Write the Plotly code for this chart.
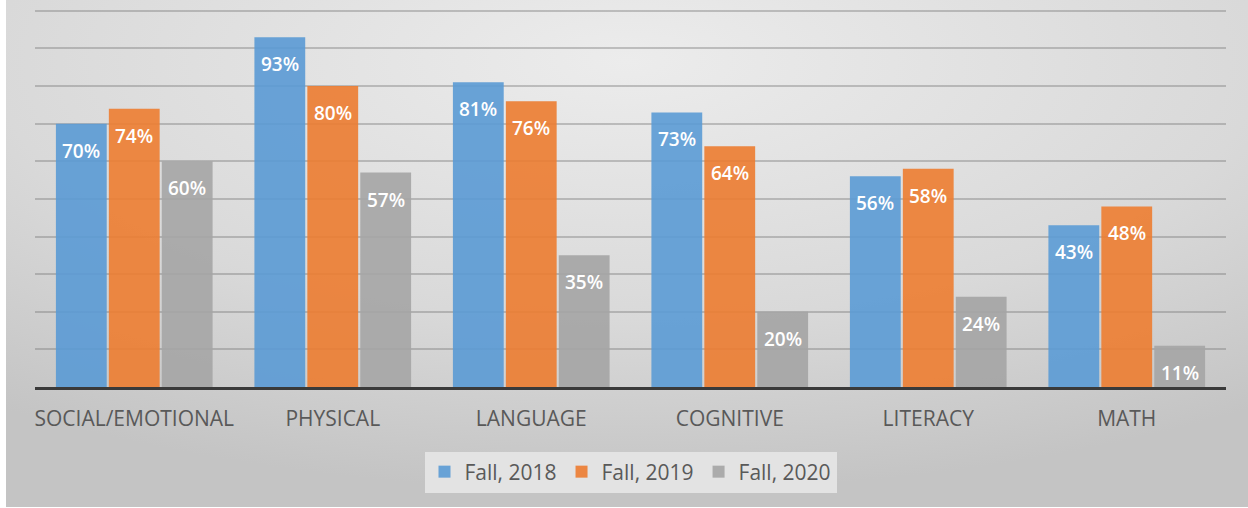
import base64
import plotly.graph_objects as go

categories = ["SOCIAL/EMOTIONAL", "PHYSICAL", "LANGUAGE", "COGNITIVE", "LITERACY", "MATH"]
series_names = ["Fall, 2018", "Fall, 2019", "Fall, 2020"]
fall_2018 = [70, 93, 81, 73, 56, 43]
fall_2019 = [74, 80, 76, 64, 58, 48]
fall_2020 = [60, 57, 35, 20, 24, 11]
series_values = [fall_2018, fall_2019, fall_2020]
colors = ["#5B9BD5", "#ED7D31", "#A5A5A5"]

W, H = 1248, 508
L, R, T, B = 35, 22, 9, 121
pw, ph = W - L - R, H - T - B

fig = go.Figure()
for name, vals, col in zip(series_names, series_values, colors):
    fig.add_trace(go.Bar(
        x=categories, y=vals, name=name,
        marker=dict(color=col, line=dict(width=0)),
        opacity=0.9,
        hoverinfo="skip",
    ))

# data labels ("inside end" style, like the source chart)
group_shift = [-53, 0, 53]
annotations = []
for si, vals in enumerate(series_values):
    for c, v in zip(categories, vals):
        annotations.append(dict(
            x=c, y=v, xref="x", yref="y", text=f"{v}%", showarrow=False,
            xshift=group_shift[si], yshift=-27, yanchor="middle",
            font=dict(family="Open Sans", size=19, color="white", weight=600),
        ))

svg = (
    '<svg xmlns="http://www.w3.org/2000/svg" width="1242" height="507" '
    'viewBox="0 0 1242 507" preserveAspectRatio="none">'
    '<defs><radialGradient id="g" cx="0.5" cy="0.12" r="0.85">'
    '<stop offset="0" stop-color="#ececec"/>'
    '<stop offset="0.6" stop-color="#d9d9d9"/>'
    '<stop offset="1" stop-color="#c4c4c4"/>'
    '</radialGradient></defs>'
    '<rect width="1242" height="507" fill="url(#g)"/></svg>'
)
src = "data:image/svg+xml;base64," + base64.b64encode(svg.encode()).decode()

fig.update_layout(
    width=W, height=H,
    margin=dict(l=L, r=R, t=T, b=B, pad=0),
    paper_bgcolor="white",
    plot_bgcolor="rgba(0,0,0,0)",
    barmode="group",
    bargap=0.2,
    bargroupgap=0.04,
    font=dict(family="Open Sans", color="#595959"),
    images=[dict(
        source=src, xref="paper", yref="paper",
        x=(6 - L) / pw, y=(H - B) / ph,
        sizex=1242 / pw, sizey=507 / ph,
        xanchor="left", yanchor="top", sizing="stretch", layer="below",
    )],
    xaxis=dict(
        showline=True, linecolor="#3a3a3a", linewidth=3,
        showgrid=False, ticks="", ticklabelstandoff=11,
        tickfont=dict(family="Open Sans", size=21, color="#595959"),
        fixedrange=True,
    ),
    yaxis=dict(
        range=[0, 100.5], tickmode="linear", tick0=0, dtick=10, showgrid=True,
        gridcolor="rgba(120,120,120,0.4)", gridwidth=2,
        showticklabels=False, zeroline=False, ticks="",
        fixedrange=True,
    ),
    legend=dict(
        orientation="h", x=0.5, xanchor="center",
        y=(H - B - 472) / ph, yanchor="middle",
        bgcolor="#e3e3e3", borderwidth=0,
        font=dict(family="Open Sans", size=21, color="#595959"),
        itemwidth=30, traceorder="normal",
    ),
    annotations=annotations,
    showlegend=True,
)

fig.write_html(
    "out.html",
    config={"displayModeBar": False},
    post_script="document.body.style.margin='0';document.body.style.overflow='hidden';",
)
